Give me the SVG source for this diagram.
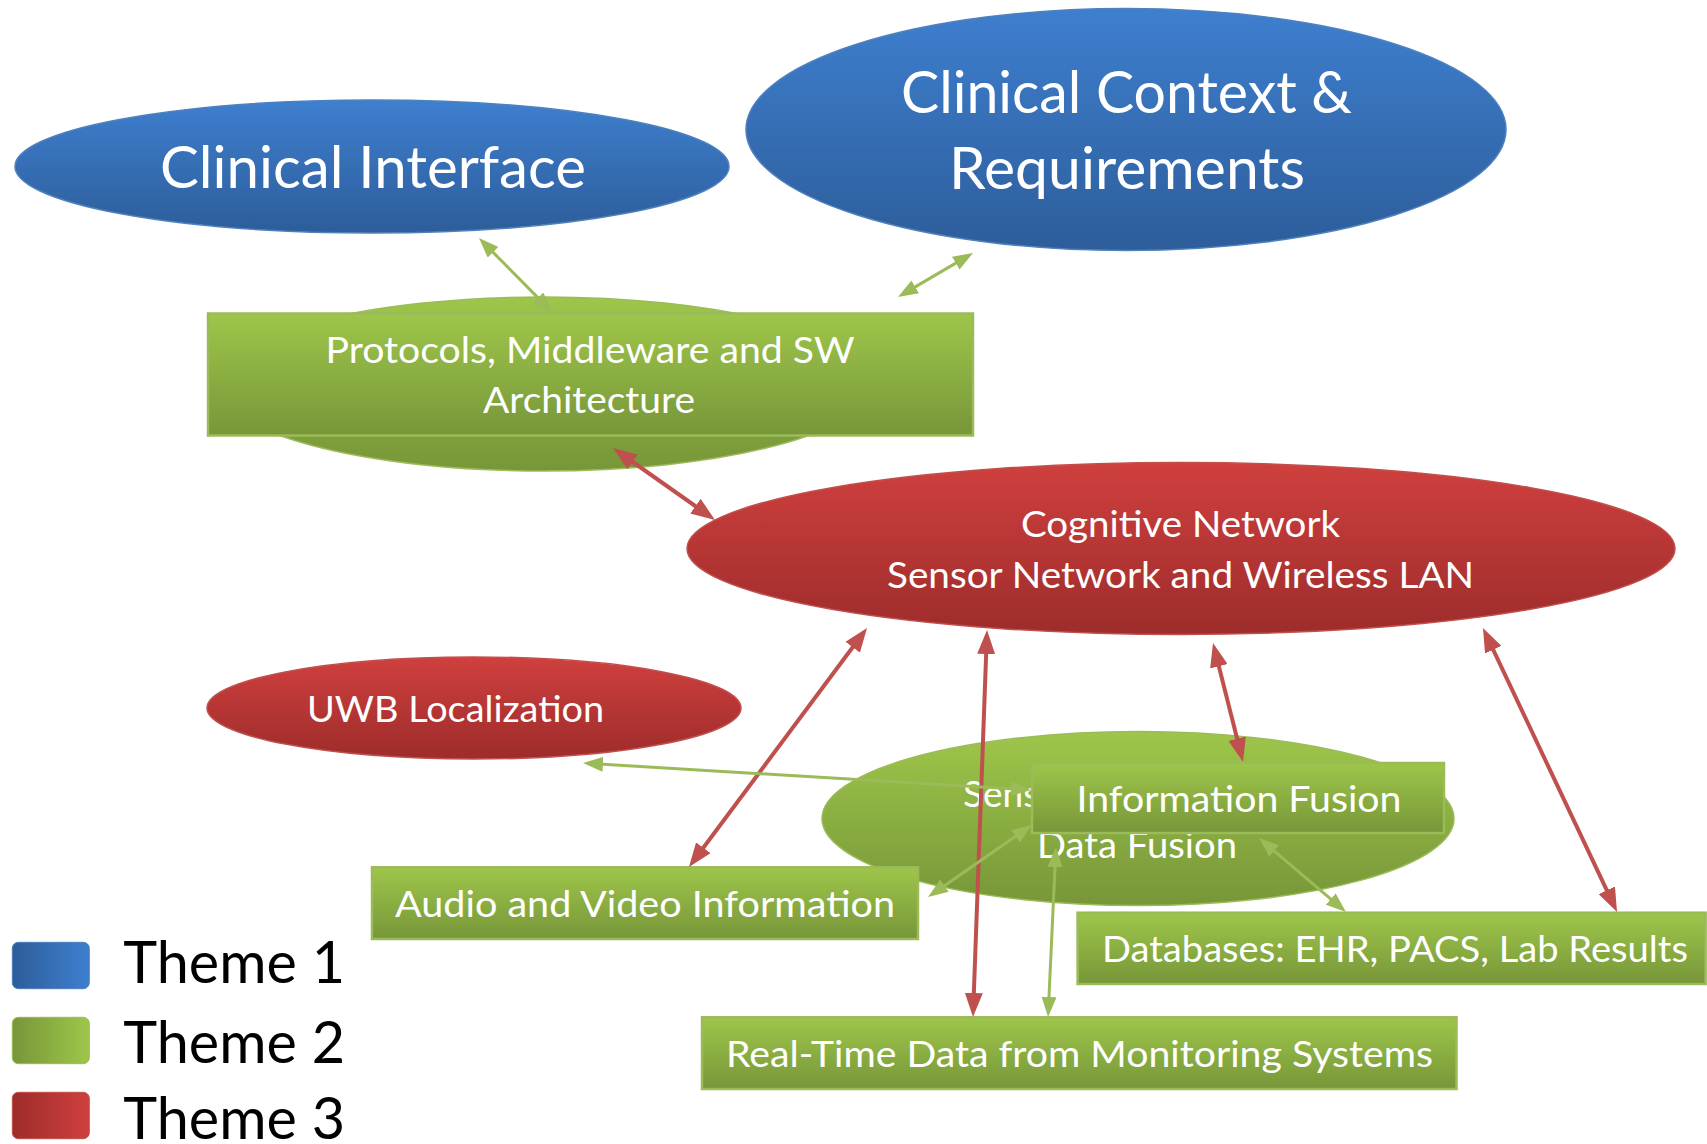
<svg xmlns="http://www.w3.org/2000/svg" width="1707" height="1144" viewBox="0 0 1707 1144">
<defs>
<linearGradient id="gBlue" x1="0" y1="0" x2="0" y2="1"><stop offset="0" stop-color="#3e7fcf"/><stop offset="1" stop-color="#2d5d9a"/></linearGradient>
<linearGradient id="gGreen" x1="0" y1="0" x2="0" y2="1"><stop offset="0" stop-color="#9ec64a"/><stop offset="1" stop-color="#779639"/></linearGradient>
<linearGradient id="gRed" x1="0" y1="0" x2="0" y2="1"><stop offset="0" stop-color="#cf403e"/><stop offset="1" stop-color="#9d2c2b"/></linearGradient>
<linearGradient id="lBlue" x1="0" y1="0" x2="1" y2="0"><stop offset="0" stop-color="#2d5d9a"/><stop offset="1" stop-color="#3e7fcf"/></linearGradient>
<linearGradient id="lGreen" x1="0" y1="0" x2="1" y2="0"><stop offset="0" stop-color="#779639"/><stop offset="1" stop-color="#9ec64a"/></linearGradient>
<linearGradient id="lRed" x1="0" y1="0" x2="1" y2="0"><stop offset="0" stop-color="#9d2c2b"/><stop offset="1" stop-color="#cf403e"/></linearGradient>
<marker id="hRed" markerUnits="userSpaceOnUse" markerWidth="26" markerHeight="18" refX="4" refY="9" orient="auto-start-reverse" viewBox="0 0 26 18"><path d="M0,0 L24,9 L0,18 z" fill="#c0504d"/></marker>
<marker id="hGreen" markerUnits="userSpaceOnUse" markerWidth="22" markerHeight="15" refX="4" refY="7.5" orient="auto-start-reverse" viewBox="0 0 22 15"><path d="M0,0 L20,7.5 L0,15 z" fill="#9bbb59"/></marker>
</defs>
<style>
.t{font-family:Lato,"Open Sans","Liberation Sans",sans-serif;fill:#ffffff;text-anchor:middle}
.big{font-size:59px}
.mid{font-size:37px}
.leg{font-family:Lato,"Open Sans","Liberation Sans",sans-serif;fill:#000000;font-size:59px}
.eb{fill:url(#gBlue);stroke:#4f81bd;stroke-width:1.5}
.eg{fill:url(#gGreen);stroke:#9bbb59;stroke-width:1.5}
.er{fill:url(#gRed);stroke:#c0504d;stroke-width:1.5}
.rg{fill:url(#gGreen);stroke:#9bbb59;stroke-width:2.5}
.cr{fill:none;stroke:#c0504d;stroke-width:4;marker-start:url(#hRed);marker-end:url(#hRed)}
.cg{fill:none;stroke:#9bbb59;stroke-width:3;marker-start:url(#hGreen);marker-end:url(#hGreen)}
</style>
<g id="clinical-interface">
<ellipse class="eb" cx="372" cy="166.5" rx="357" ry="66.5"/>
<text class="t big" x="373" y="188" textLength="426" lengthAdjust="spacingAndGlyphs">Clinical Interface</text>
</g>
<g id="clinical-context">
<ellipse class="eb" cx="1126" cy="129.5" rx="380" ry="121"/>
<text class="t big" x="1126.5" y="112.7" textLength="451" lengthAdjust="spacingAndGlyphs">Clinical Context &amp;</text>
<text class="t big" x="1127" y="189.3" textLength="356" lengthAdjust="spacingAndGlyphs">Requirements</text>
</g>
<g id="protocols">
<ellipse class="eg" cx="544" cy="384" rx="328" ry="87"/>
<rect class="rg" x="208" y="313.5" width="765" height="122"/>
<text class="t mid" x="590" y="362.7" textLength="529" lengthAdjust="spacingAndGlyphs">Protocols, Middleware and SW</text>
<text class="t mid" x="589" y="413.3" textLength="212" lengthAdjust="spacingAndGlyphs">Architecture</text>
</g>
<g id="cognitive-network">
<ellipse class="er" cx="1181" cy="548.5" rx="494" ry="86"/>
<text class="t mid" x="1180.5" y="537.3" textLength="319" lengthAdjust="spacingAndGlyphs">Cognitive Network</text>
<text class="t mid" x="1180.5" y="587.7" textLength="587" lengthAdjust="spacingAndGlyphs">Sensor Network and Wireless LAN</text>
</g>
<g id="uwb-localization">
<ellipse class="er" cx="474" cy="708" rx="267" ry="51"/>
<text class="t mid" x="455.5" y="721.7" textLength="297" lengthAdjust="spacingAndGlyphs">UWB Localization</text>
</g>
<g id="sensor-data-fusion">
<ellipse class="eg" cx="1138" cy="818.6" rx="316" ry="87"/>
<text class="t mid" x="963" y="807" style="text-anchor:start">Sensor</text>
<text class="t mid" x="1137" y="858.3" textLength="200" lengthAdjust="spacingAndGlyphs">Data Fusion</text>
</g>
<g id="information-fusion">
<rect class="rg" x="1032" y="763" width="412" height="70"/>
<text class="t mid" x="1239" y="812" textLength="325" lengthAdjust="spacingAndGlyphs">Information Fusion</text>
</g>
<g id="audio-video">
<rect class="rg" x="372" y="867.3" width="546" height="71.7"/>
<text class="t mid" x="645" y="917.3" textLength="500" lengthAdjust="spacingAndGlyphs">Audio and Video Information</text>
</g>
<g id="databases">
<rect class="rg" x="1077.6" y="912.7" width="628" height="71.3"/>
<text class="t mid" x="1395" y="961.7" textLength="586" lengthAdjust="spacingAndGlyphs">Databases: EHR, PACS, Lab Results</text>
</g>
<g id="real-time">
<rect class="rg" x="702" y="1017.3" width="754.5" height="71.7"/>
<text class="t mid" x="1079.5" y="1066.7" textLength="707" lengthAdjust="spacingAndGlyphs">Real-Time Data from Monitoring Systems</text>
</g>
<g id="legend">
<rect x="12.3" y="942.3" width="77" height="46.4" rx="6" fill="url(#lBlue)" stroke="#4f81bd" stroke-width="1"/>
<rect x="12.3" y="1017.3" width="77" height="46.4" rx="6" fill="url(#lGreen)" stroke="#9bbb59" stroke-width="1"/>
<rect x="12.3" y="1092.3" width="77" height="46.4" rx="6" fill="url(#lRed)" stroke="#c0504d" stroke-width="1"/>
<text class="leg" x="123.3" y="982.7" textLength="221.7" lengthAdjust="spacingAndGlyphs">Theme 1</text>
<text class="leg" x="123.3" y="1063.3" textLength="221.7" lengthAdjust="spacingAndGlyphs">Theme 2</text>
<text class="leg" x="123.3" y="1139" textLength="221.7" lengthAdjust="spacingAndGlyphs">Theme 3</text>
</g>
<g id="connectors">
<path class="cg" d="M490.2,249.4 L540.8,300.6"/>
<path class="cg" d="M959.2,261.1 L911.8,288.9"/>
<path class="cr" d="M629.3,459.5 L698.7,508.5"/>
<path class="cr" d="M855.1,644.0 L700.9,851.0"/>
<path class="cr" d="M986.3,650.0 L973.7,997.0"/>
<path class="cr" d="M1217.9,662.4 L1238.1,742.6"/>
<path class="cr" d="M1491.5,646.1 L1608.5,893.9"/>
<path class="cg" d="M599.0,764.0 L1015.0,789.0"/>
<path class="cg" d="M1018.8,834.1 L941.2,887.9"/>
<path class="cg" d="M1055.2,863.0 L1048.8,1001.0"/>
<path class="cg" d="M1271.2,848.4 L1333.8,901.6"/>
</g>
</svg>
